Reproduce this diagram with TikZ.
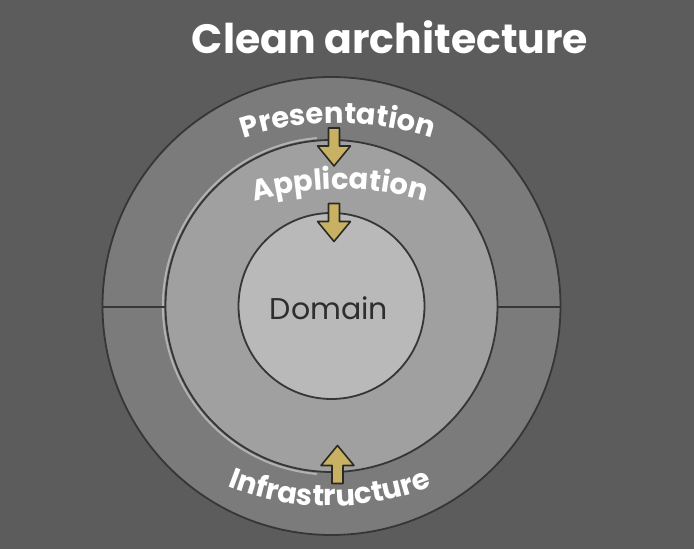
\documentclass[tikz,border=0pt]{standalone}
\usepackage{fontspec}
\setmainfont{Poppins}
\usetikzlibrary{decorations.text}
\definecolor{bg}{HTML}{5C5C5C}
\definecolor{ringout}{HTML}{7B7B7B}
\definecolor{ringmid}{HTML}{A0A0A0}
\definecolor{core}{HTML}{B9B9B9}
\definecolor{edge}{HTML}{363636}
\definecolor{bevel}{HTML}{B2B2B2}
\definecolor{gold}{HTML}{C9B163}
\definecolor{goldedge}{HTML}{2B2A22}
\definecolor{domtxt}{HTML}{2E2E2E}
\newcommand\lblfont{\fontsize{29}{29}\selectfont\bfseries}
\begin{document}
\begin{tikzpicture}[x=1pt,y=1pt,
  ring/.style={circle, draw=edge, line width=1.8pt, inner sep=0pt, outer sep=0pt},
  divider/.style={draw=edge, line width=1.8pt},
  blockarrow/.style={fill=gold, draw=goldedge, line width=1.6pt, line join=round},
  arrowdown/.pic={\draw[blockarrow] (-5.5,19) -- (-5.5,1) -- (-16.5,1) -- (0,-19) -- (16.5,1) -- (5.5,1) -- (5.5,19) -- cycle;},
  arrowup/.pic={\draw[blockarrow] (-5.5,-19) -- (-5.5,-1) -- (-16.5,-1) -- (0,19) -- (16.5,-1) -- (5.5,-1) -- (5.5,-19) -- cycle;},
  arctext/.style={decorate, decoration={text along path, text={|\lblfont|#1}, text align=center, text color=white}}
]
\fill[bg] (0,0) rectangle (694,549);
\useasboundingbox (0,0) rectangle (694,549);
\coordinate (C) at (331.5,243);

% rings
\node[ring, fill=ringout, minimum size=458pt] (outer) at (C) {};
\node[ring, fill=ringmid, minimum size=332pt] (middle) at (C) {};
\draw[bevel, line width=2pt] (C) ++(95:168.6) arc (95:265:168.6);
\node[ring, fill=core, minimum size=186pt] (inner) at (C) {};
\draw[divider] ([yshift=-1pt]outer.west) -- ([yshift=-1pt]middle.west);
\draw[divider] ([yshift=-1pt]middle.east) -- ([yshift=-1pt]outer.east);

% title
\node[anchor=base, text=white, font=\fontsize{41}{41}\selectfont\bfseries] (title) at (390,495) {Clean architecture};

% curved labels
\coordinate (Pc) at (338,126);
\coordinate (Ac) at (340,60);
\coordinate (Ic) at (330,323);
\path[arctext={Presentation}] (Pc) ++(125:300) arc (125:55:300);
\path[arctext={Application}] (Ac) ++(125:300) arc (125:55:300);
\path[arctext={Infrastructure}] (Ic) ++(235:280) arc (235:305:280);

% domain
\node[anchor=base, text=domtxt, font=\fontsize{30}{30}\selectfont] (domain) at (329,229) {Domain};

% arrows
\pic (a1) at (334,402) {arrowdown};
\pic (a2) at (334,326.5) {arrowdown};
\pic (a3) at (337.5,84.5) {arrowup};
\end{tikzpicture}
\end{document}
